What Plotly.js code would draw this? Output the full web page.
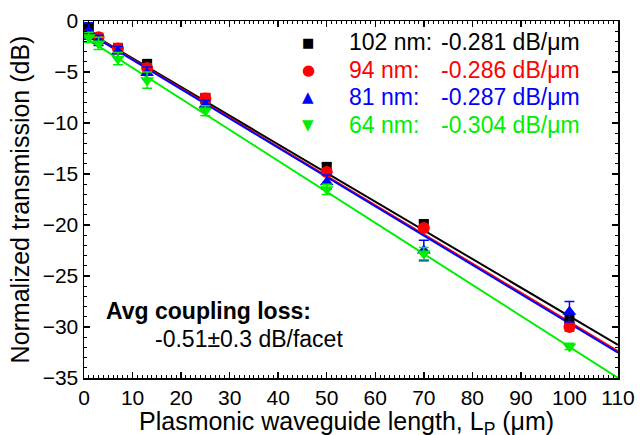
<!DOCTYPE html>
<html>
<head>
<meta charset="utf-8">
<script src="https://cdn.plot.ly/plotly-3.0.1.min.js"></script>
<style>html,body{margin:0;padding:0;background:#fff;}#chart{width:640px;height:435px;}</style>
</head>
<body>
<div id="chart"></div>
<script>
// Waveguide lengths (µm)
const lengths = [1, 3, 7, 13, 25, 50, 70, 100];
// Normalized transmission (dB) per waveguide width
const t102 = [-0.6, -1.8, -2.7, -4.2, -7.6, -14.3, -19.9, -29.2];
const e102 = [0.3, 0.3, 0.3, 0.3, 0.4, 0.3, 0.3, 0.5];
const t94  = [-1.3, -1.6, -2.7, -4.6, -7.6, -14.8, -20.3, -30.0];
const e94  = [0.3, 0.4, 0.5, 0.4, 0.5, 0.3, 0.3, 0.4];
const t81  = [-1.0, -1.9, -3.0, -5.1, -8.2, -15.8, -22.5, -28.5];
const e81  = [0.8, 0.5, 0.5, 0.6, 0.4, 0.7, 1.0, 1.0];
const t64  = [-1.6, -2.2, -3.7, -5.8, -8.8, -16.5, -22.8, -31.9];
const e64  = [0.5, 0.6, 0.6, 0.8, 0.5, 0.5, 0.6, 0.3];
// Linear fits: slope (dB/µm) and intercept (dB)
const fitSlopes = [-0.281, -0.286, -0.287, -0.304];
const fitIntercepts = [-0.85, -0.9, -0.95, -1.55];
const fitRange = [0, 110];
const seriesLabels = ['102 nm:', '94 nm:', '81 nm:', '64 nm:'];
const slopeLabels = ['-0.281 dB/\u03bcm', '-0.286 dB/\u03bcm', '-0.287 dB/\u03bcm', '-0.304 dB/\u03bcm'];
const keyGlyphs = ['\u25a0', '\u25cf', '\u25b2', '\u25bc'];

// styling
const colors = ['#000000', '#ff0000', '#0000ff', '#00ee00'];
const symbols = ['square', 'circle', 'triangle-up', 'triangle-down'];
const sizes = [10, 12, 12, 12];
const glyphSizes = [13, 15, 15, 15];
const keyRowsY = [0.941, 0.864, 0.787, 0.710];
const values = [t102, t94, t81, t64];
const errs = [e102, e94, e81, e64];

const traces = [];
for (let i = 0; i < 4; i++) {
  traces.push({
    x: fitRange,
    y: fitRange.map(x => fitIntercepts[i] + fitSlopes[i] * x),
    mode: 'lines', type: 'scatter', showlegend: false, hoverinfo: 'skip',
    line: {color: colors[i], width: 2}
  });
}
for (let i = 0; i < 4; i++) {
  traces.push({
    x: lengths, y: values[i], mode: 'markers', type: 'scatter', showlegend: false,
    name: seriesLabels[i],
    marker: {symbol: symbols[i], size: sizes[i], color: colors[i]},
    error_y: {type: 'data', array: errs[i], visible: true, color: colors[i], thickness: 1.5, width: 5}
  });
}

const font = 'Liberation Sans, Arial, sans-serif';
const annotations = [
  {xref: 'paper', yref: 'paper', x: 0.037, y: 0.188, xanchor: 'left', yanchor: 'middle',
   text: '<b>Avg coupling loss:</b>', showarrow: false, font: {family: font, size: 23}},
  {xref: 'paper', yref: 'paper', x: 0.13, y: 0.11, xanchor: 'left', yanchor: 'middle',
   text: '-0.51\u00b10.3 dB/facet', showarrow: false, font: {family: font, size: 23}},
  {xref: 'paper', yref: 'paper', x: 0.492, y: -0.127, xanchor: 'center', yanchor: 'middle', borderpad: 0,
   text: 'Plasmonic waveguide length, L<sub>P</sub> (\u03bcm)', showarrow: false, font: {family: font, size: 25}}
];
for (let i = 0; i < 4; i++) {
  annotations.push({xref: 'paper', yref: 'paper', x: 0.4195, y: keyRowsY[i], xanchor: 'center', yanchor: 'middle',
    text: keyGlyphs[i], showarrow: false, font: {family: 'DejaVu Sans', size: glyphSizes[i], color: colors[i]}});
  annotations.push({xref: 'paper', yref: 'paper', x: 0.492, y: keyRowsY[i], xanchor: 'left', yanchor: 'middle',
    text: seriesLabels[i], showarrow: false, font: {family: font, size: 23, color: colors[i]}});
  annotations.push({xref: 'paper', yref: 'paper', x: 0.664, y: keyRowsY[i], xanchor: 'left', yanchor: 'middle',
    text: slopeLabels[i], showarrow: false, font: {family: font, size: 23, color: colors[i]}});
}

const layout = {
  width: 640, height: 435,
  margin: {l: 84, r: 22, t: 21, b: 57},
  paper_bgcolor: '#fff', plot_bgcolor: '#fff',
  font: {family: font, color: '#000', size: 21},
  showlegend: false,
  xaxis: {
    range: [0, 110], dtick: 10, tick0: 0,
    showline: true, linecolor: '#000', linewidth: 1.5, mirror: 'allticks',
    ticks: 'inside', ticklen: 6, tickwidth: 1.5, tickcolor: '#000',
    showgrid: false, zeroline: false,
    tickfont: {family: font, size: 21},
    minor: {dtick: 1, ticks: 'inside', ticklen: 3, tickwidth: 1, tickcolor: '#000', showgrid: false}
  },
  yaxis: {
    range: [-35, 0], dtick: 5, tick0: 0,
    showline: true, linecolor: '#000', linewidth: 1.5, mirror: 'allticks',
    ticks: 'inside', ticklen: 6, tickwidth: 1.5, tickcolor: '#000',
    showgrid: false, zeroline: false,
    tickfont: {family: font, size: 21},
    minor: {dtick: 1, ticks: 'inside', ticklen: 3, tickwidth: 1, tickcolor: '#000', showgrid: false},
    title: {text: 'Normalized transmission (dB)', font: {family: font, size: 25}, standoff: 6}
  },
  annotations: annotations
};

Plotly.newPlot('chart', traces, layout, {displayModeBar: false, staticPlot: true});
</script>
</body>
</html>
